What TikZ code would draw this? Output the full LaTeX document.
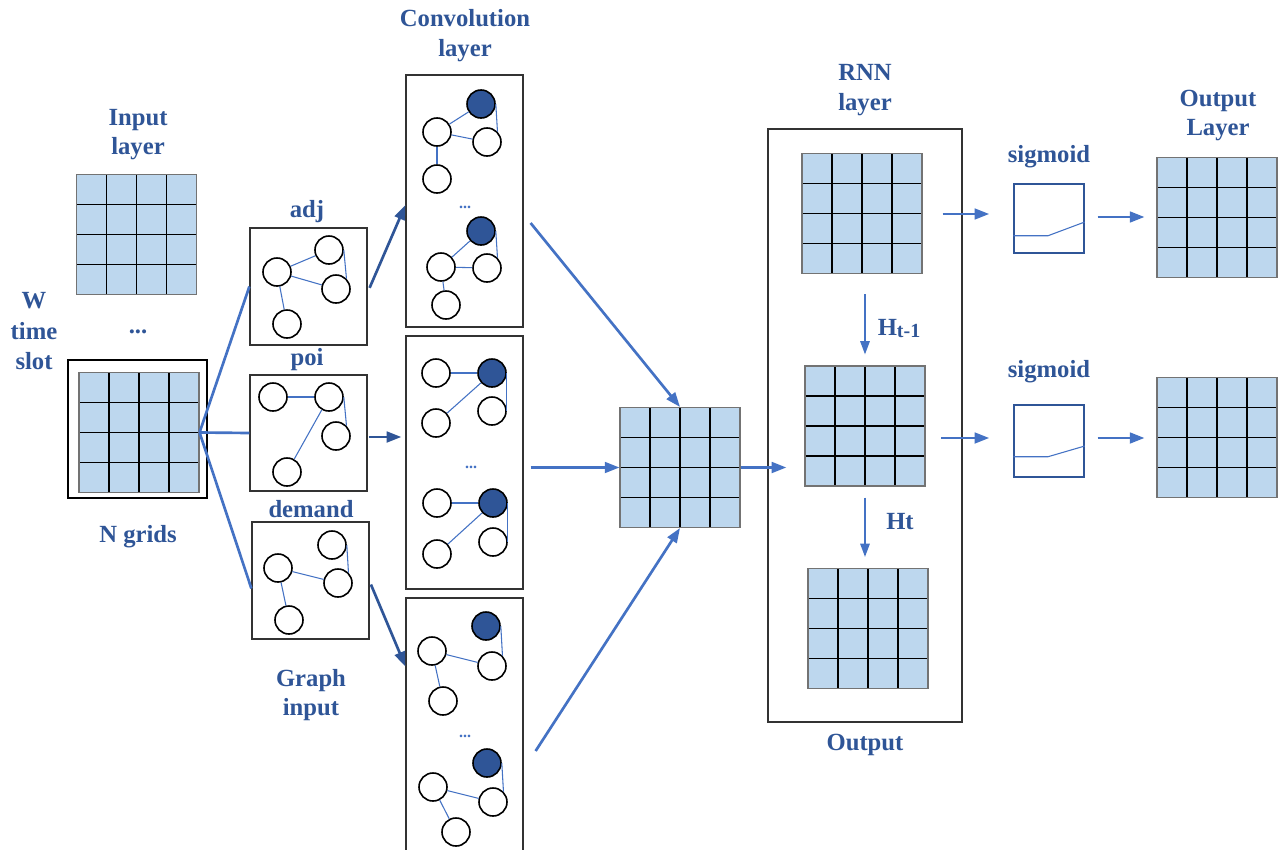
\documentclass[tikz,border=0pt]{standalone}
\usepackage{fontspec}
\setmainfont{Liberation Serif}
\usetikzlibrary{arrows.meta,calc}
\definecolor{textblue}{HTML}{2F5597}
\definecolor{arrowblue}{HTML}{4472C4}
\definecolor{darkarrow}{HTML}{2F5597}
\definecolor{gridblue}{HTML}{BDD7EE}
\definecolor{nodeblue}{HTML}{2F5597}
\begin{document}
\begin{tikzpicture}[x=0.75pt,y=-0.75pt,
  lbl/.style={font=\fontsize{18.5}{22.5}\selectfont\bfseries, text=textblue, inner sep=0pt, anchor=base},
  cdots/.style={font=\fontsize{12}{12}\selectfont\bfseries, text=arrowblue, inner sep=0pt, anchor=base},
  gridnode/.style={draw=black!55, line width=0.8pt, fill=gridblue, minimum width=90pt, minimum height=90pt, inner sep=0pt,
    path picture={
      \foreach \f in {0.25,0.5,0.75}{
        \draw[black, line width=0.8pt] ($(path picture bounding box.south west)!\f!(path picture bounding box.south east)$) -- ($(path picture bounding box.north west)!\f!(path picture bounding box.north east)$);
        \draw[black, line width=0.8pt] ($(path picture bounding box.south west)!\f!(path picture bounding box.north west)$) -- ($(path picture bounding box.south east)!\f!(path picture bounding box.north east)$);
      }}},
  gbox/.style={draw=black!80, line width=0.9pt, inner sep=0pt, minimum width=87.75pt},
  nd/.style={circle, draw=black, line width=1.2pt, fill=white, minimum size=21pt, inner sep=0pt},
  fnd/.style={nd, fill=nodeblue},
  gedge/.style={draw=arrowblue, color=arrowblue, line width=0.8pt},
  link/.style={draw=arrowblue, line width=2pt},
  arr/.style={draw=arrowblue, line width=2pt, -{Triangle[length=11pt,width=8pt]}},
  darr/.style={draw=darkarrow, line width=2pt, -{Triangle[length=11pt,width=8pt]}},
  tarr/.style={draw=arrowblue, line width=1.5pt, -{Triangle[length=10pt,width=7pt]}},
  sigbox/.style={draw=textblue, line width=1.1pt, fill=white, inner sep=0pt, minimum width=52.5pt},
  sigline/.style={draw=arrowblue, line width=0.8pt}
]
\clip (0,0) rectangle (1279,850);
\fill[white] (0,0) rectangle (1279,850);

% ---------------- Input layer ----------------
\node[lbl] (inl1) at (138,125) {Input};
\node[lbl] (inl2) at (138,154) {layer};
\node[gridnode] (in1) at (136.5,234.5) {};
\node[lbl] (indots) at (138,333) {...};
\node[draw=black, line width=1.2pt, minimum width=104.25pt, minimum height=103.5pt, inner sep=0pt] (inframe) at (137.5,429) {};
\node[gridnode] (in2) at (139,432.5) {};
\node[lbl] (w1) at (34,308) {W};
\node[lbl] (w2) at (34,339) {time};
\node[lbl] (w3) at (34,369) {slot};
\node[lbl] (ngr) at (138,542) {N grids};

% ---------------- Graph input ----------------
\node[lbl] (adjl) at (307,217) {adj};
\node[gbox, minimum height=87.75pt] (adj) at (308.5,286.5) {};
\node[lbl] (poil) at (307,365) {poi};
\node[gbox, minimum height=87pt] (poi) at (308.5,433) {};
\node[lbl] (deml) at (311,517) {demand};
\node[gbox, minimum height=87.75pt] (dem) at (310.5,580.5) {};
\node[lbl] (gi1) at (311,686) {Graph};
\node[lbl] (gi2) at (311,715) {input};

\node[nd] (a1) at (277,272) {};
\node[nd] (a2) at (329,250) {};
\node[nd] (a3) at (336,289) {};
\node[nd] (a4) at (287,324) {};
\draw[gedge] (a1) -- (a2);
\draw[gedge] (a1) -- (a3);
\draw[gedge] (a1) -- (a4);
\draw[gedge] (a2.east) -- (a3.north east);

\node[nd] (p1) at (273,397) {};
\node[nd] (p2) at (329,397) {};
\node[nd] (p3) at (336,436) {};
\node[nd] (p4) at (287,472) {};
\draw[gedge] (p1) -- (p2);
\draw[gedge] (p2) -- (p4);
\draw[gedge] (p2.east) -- (p3.north east);

\node[nd] (d1) at (278,568) {};
\node[nd] (d2) at (332,545) {};
\node[nd] (d3) at (338,583) {};
\node[nd] (d4) at (289,620) {};
\draw[gedge] (d1) -- (d3);
\draw[gedge] (d1) -- (d4);
\draw[gedge] (d2.east) -- (d3.north east);

% ---------------- Convolution layer ----------------
\node[lbl] (cvl1) at (465,26) {Convolution};
\node[lbl] (cvl2) at (465,56) {layer};
\node[gbox, minimum height=189pt] (cv1) at (464.5,201) {};
\node[gbox, minimum height=189.75pt] (cv2) at (464.5,462.5) {};
\node[gbox, minimum height=198pt] (cv3) at (464.5,730) {};

% conv1 group a
\node[fnd] (c1af) at (481,104) {};
\node[nd] (c1ab) at (437,132) {};
\node[nd] (c1ac) at (487,142) {};
\node[nd] (c1ad) at (437,179) {};
\draw[gedge] (c1ab) -- (c1af);
\draw[gedge] (c1ab) -- (c1ac);
\draw[gedge] (c1ab) -- (c1ad);
\draw[gedge] (c1af.east) -- (c1ac.north east);
\node[cdots] (c1dots) at (465,208) {...};
% conv1 group b
\node[fnd] (c1bf) at (481,231) {};
\node[nd] (c1bb) at (441,267) {};
\node[nd] (c1bc) at (487,268) {};
\node[nd] (c1bd) at (446,305) {};
\draw[gedge] (c1bb) -- (c1bf);
\draw[gedge] (c1bb) -- (c1bc);
\draw[gedge] (c1bb) -- (c1bd);
\draw[gedge] (c1bf.east) -- (c1bc.north east);

% conv2 group a
\node[nd] (c2ab) at (436,373) {};
\node[fnd] (c2af) at (492,373) {};
\node[nd] (c2ac) at (492,411) {};
\node[nd] (c2ad) at (436,423) {};
\draw[gedge] (c2ab) -- (c2af);
\draw[gedge] (c2af) -- (c2ad);
\draw[gedge] (c2af.east) -- (c2ac.east);
\node[cdots] (c2dots) at (471,468) {...};
% conv2 group b
\node[nd] (c2bb) at (437,503) {};
\node[fnd] (c2bf) at (493,503) {};
\node[nd] (c2bc) at (493,542) {};
\node[nd] (c2bd) at (437,554) {};
\draw[gedge] (c2bb) -- (c2bf);
\draw[gedge] (c2bf) -- (c2bd);
\draw[gedge] (c2bf.east) -- (c2bc.east);

% conv3 group a
\node[fnd] (c3af) at (486,626) {};
\node[nd] (c3ab) at (432,651) {};
\node[nd] (c3ac) at (492,666) {};
\node[nd] (c3ad) at (443,701) {};
\draw[gedge] (c3af.east) -- (c3ac.north east);
\draw[gedge] (c3ab) -- (c3ac);
\draw[gedge] (c3ab) -- (c3ad);
\node[cdots] (c3dots) at (465,737) {...};
% conv3 group b
\node[fnd] (c3bf) at (487,763) {};
\node[nd] (c3bb) at (433,787) {};
\node[nd] (c3bc) at (493,802) {};
\node[nd] (c3bd) at (456,832) {};
\draw[gedge] (c3bf.east) -- (c3bc.north east);
\draw[gedge] (c3bb) -- (c3bc);
\draw[gedge] (c3bb) -- (c3bd);

% ---------------- Center grid ----------------
\node[gridnode] (ctr) at (680,467.5) {};

% ---------------- RNN layer ----------------
\node[lbl] (rl1) at (865,80) {RNN};
\node[lbl] (rl2) at (865,110) {layer};
\node[draw=black!80, line width=0.9pt, minimum width=145.5pt, minimum height=444.75pt, inner sep=0pt] (rnn) at (865,425.5) {};
\node[gridnode] (r1) at (862,213.5) {};
\node[gridnode] (r2) at (865,426) {};
\node[gridnode] (r3) at (868,628.5) {};
\node[lbl] (ht1) at (899,335) {H\raisebox{-1.5pt}{\fontsize{15}{15}\selectfont t-1}};
\node[lbl] (ht) at (900,529) {Ht};
\node[lbl] (outl) at (865,750) {Output};

% ---------------- Sigmoid + output layer ----------------
\node[lbl] (sg1l) at (1049,162) {sigmoid};
\node[sigbox, minimum height=51.75pt] (sig1) at (1049,218.5) {};
\draw[sigline] ($(sig1.south west)+(0,-18)$) -- ($(sig1.south)+(-1,-18)$) -- ($(sig1.east)+(0,3.5)$);
\node[lbl] (sg2l) at (1049,377) {sigmoid};
\node[sigbox, minimum height=54pt] (sig2) at (1049,441) {};
\draw[sigline] ($(sig2.south west)+(0,-21)$) -- ($(sig2.south)+(-1,-21)$) -- ($(sig2.east)+(0,5)$);
\node[lbl] (ol1) at (1218,106) {Output};
\node[lbl] (ol2) at (1218,135) {Layer};
\node[gridnode] (o1) at (1217,217.5) {};
\node[gridnode] (o2) at (1217,437.5) {};

% ---------------- Connectors ----------------
\draw[link] (in2.east) -- (adj.west);
\draw[link] (in2.east) -- (poi.west);
\draw[link] (in2.east) -- ([yshift=-6pt]dem.west);

\draw[darr] ([xshift=1.5pt,yshift=-1pt]adj.east) -- ([yshift=-3pt]cv1.west);
\draw[darr] ([xshift=1pt,yshift=-3pt]poi.east) -- ($(poi.east -| cv2.west)+(-4,4)$);
\draw[darr] ([xshift=1pt,yshift=-3pt]dem.east) -- ($(cv3.north west)+(0,69)$);

\draw[arr] ($(cv1.east)+(7,22)$) -- (ctr.north);
\draw[arr] ($(cv2.east |- ctr.west)+(7,0)$) -- (ctr.west);
\draw[arr] ($(cv3.east)+(12,21)$) -- (ctr.south);

\draw[arr] (ctr.east) -- ($(rnn.west |- ctr.east)+(19,0)$);
\draw[tarr] ($(r1.south -| r2.north)+(0,20)$) -- ($(r2.north)+(0,-11)$);
\draw[tarr] ($(r2.south)+(0,11)$) -- ($(r3.north -| r2.south)+(0,-11)$);

\draw[arr] ($(r1.east)+(20,0.5)$) -- ($(r1.east -| sig1.west)+(-24,0.5)$);
\draw[arr] ($(sig1.east)+(13,-1.5)$) -- ($(sig1.east -| o1.west)+(-12,-1.5)$);
\draw[arr] ($(sig2.west)+(-72,-3)$) -- ($(sig2.west)+(-24,-3)$);
\draw[arr] ($(sig2.east)+(13,-3)$) -- ($(sig2.east -| o2.west)+(-12,-3)$);
\end{tikzpicture}
\end{document}
